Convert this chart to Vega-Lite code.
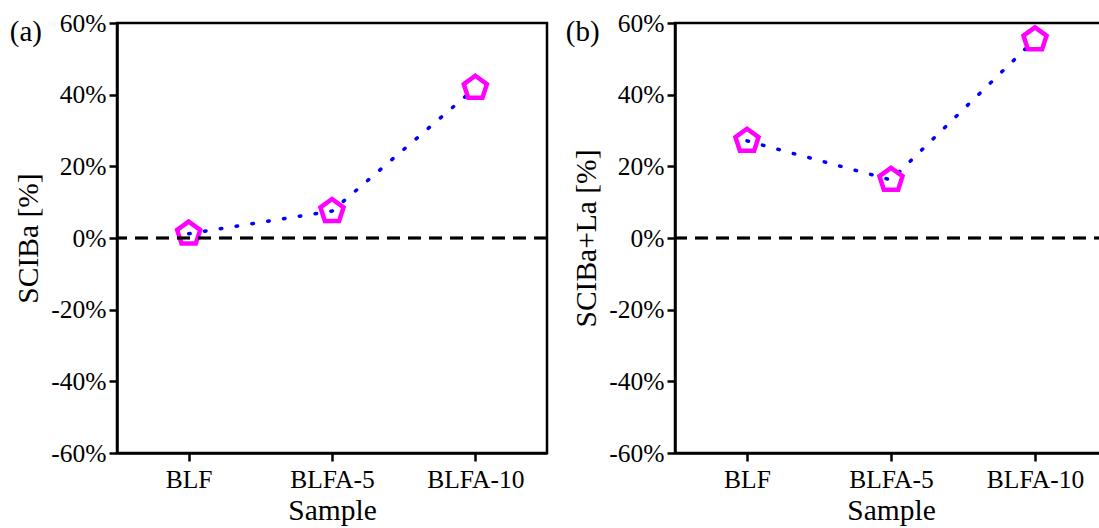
{
  "$schema": "https://vega.github.io/schema/vega-lite/v6.json",
  "padding": {"left": 8, "top": 9, "right": -8, "bottom": 0},
  "background": "white",
  "config": {
    "font": "Liberation Serif",
    "view": {"stroke": "black", "strokeWidth": 2.5},
    "axis": {
      "domainColor": "black", "domainWidth": 2.5,
      "tickColor": "black", "tickWidth": 2.5, "tickSize": 8,
      "labelColor": "black", "labelFont": "Liberation Serif", "labelFontSize": 25.5, "labelPadding": 3,
      "titleFont": "Liberation Serif", "titleFontSize": 29.5, "titleFontWeight": "normal", "titleColor": "black",
      "grid": false
    },
    "title": {"font": "Liberation Serif", "fontSize": 29, "fontWeight": "normal", "color": "black"}
  },
  "datasets": {
    "a": [
      {"sample": "BLF", "sci": 1.2},
      {"sample": "BLFA-5", "sci": 7.5},
      {"sample": "BLFA-10", "sci": 41.9}
    ],
    "b": [
      {"sample": "BLF", "sci": 27.1},
      {"sample": "BLFA-5", "sci": 16.2},
      {"sample": "BLFA-10", "sci": 55.4}
    ]
  },
  "spacing": 14,
  "hconcat": [
    {
      "width": 430, "height": 430,
      "title": {"text": "(a)", "anchor": "start", "frame": "bounds", "dy": 40, "dx": -4},
      "data": {"name": "a"},
      "layer": [
        {
          "mark": {"type": "line", "color": "#0000ff", "strokeDash": [1.5, 14.5], "strokeWidth": 3.5, "strokeCap": "round"},
          "encoding": {
            "x": {"field": "sample", "type": "nominal", "sort": null, "scale": {"type": "point", "padding": 0.5},
                  "axis": {"labelAngle": 0, "title": "Sample", "titlePadding": 4, "labelPadding": 6}},
            "y": {"field": "sci", "type": "quantitative", "scale": {"domain": [-60, 60], "nice": false, "zero": false},
                  "axis": {"title": "SCIBa [%]", "titlePadding": 7,
                           "values": [-60, -50, -40, -30, -20, -10, 0, 10, 20, 30, 40, 50, 60],
                           "labelExpr": "datum.value % 20 === 0 ? datum.value + '%' : ''",
                           "tickSize": {"condition": {"test": "datum.value % 20 !== 0", "value": 4}, "value": 8}}}
          }
        },
        {
          "mark": {"type": "point", "shape": "M0,-1L0.951,-0.309L0.588,0.809L-0.588,0.809L-0.951,-0.309Z", "size": 590, "filled": false, "stroke": "#ff00ff", "strokeWidth": 4.5, "opacity": 1},
          "encoding": {
            "x": {"field": "sample", "type": "nominal", "sort": null},
            "y": {"field": "sci", "type": "quantitative"}
          }
        },
        {
          "mark": {"type": "rule", "color": "black", "strokeDash": [13, 8], "strokeWidth": 2.5},
          "encoding": {"y": {"datum": 0}}
        }
      ]
    },
    {
      "width": 432, "height": 430,
      "title": {"text": "(b)", "anchor": "start", "frame": "bounds", "dy": 40, "dx": -6},
      "data": {"name": "b"},
      "layer": [
        {
          "mark": {"type": "line", "color": "#0000ff", "strokeDash": [1.5, 14.5], "strokeWidth": 3.5, "strokeCap": "round"},
          "encoding": {
            "x": {"field": "sample", "type": "nominal", "sort": null, "scale": {"type": "point", "padding": 0.5},
                  "axis": {"labelAngle": 0, "title": "Sample", "titlePadding": 4, "labelPadding": 6}},
            "y": {"field": "sci", "type": "quantitative", "scale": {"domain": [-60, 60], "nice": false, "zero": false},
                  "axis": {"title": "SCIBa+La [%]", "titlePadding": 7,
                           "values": [-60, -50, -40, -30, -20, -10, 0, 10, 20, 30, 40, 50, 60],
                           "labelExpr": "datum.value % 20 === 0 ? datum.value + '%' : ''",
                           "tickSize": {"condition": {"test": "datum.value % 20 !== 0", "value": 4}, "value": 8}}}
          }
        },
        {
          "mark": {"type": "point", "shape": "M0,-1L0.951,-0.309L0.588,0.809L-0.588,0.809L-0.951,-0.309Z", "size": 590, "filled": false, "stroke": "#ff00ff", "strokeWidth": 4.5, "opacity": 1},
          "encoding": {
            "x": {"field": "sample", "type": "nominal", "sort": null},
            "y": {"field": "sci", "type": "quantitative"}
          }
        },
        {
          "mark": {"type": "rule", "color": "black", "strokeDash": [13, 8], "strokeWidth": 2.5},
          "encoding": {"y": {"datum": 0}}
        }
      ]
    }
  ]
}
